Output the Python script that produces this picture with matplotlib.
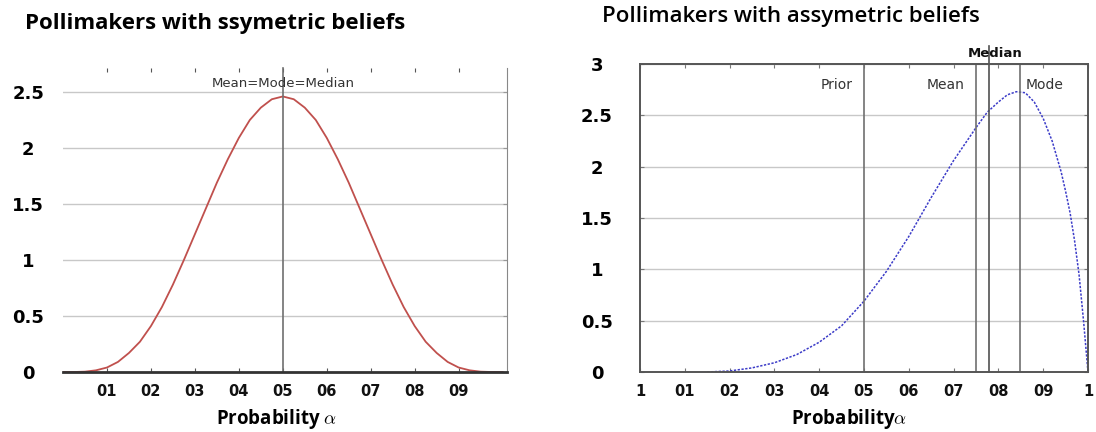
import matplotlib
matplotlib.use("Agg")
import matplotlib.pyplot as plt

plt.rcParams['mathtext.fontset'] = 'cm'

# symmetric beliefs (left)
sym_x = [0.0, 0.025, 0.05, 0.075, 0.1, 0.125, 0.15, 0.175, 0.2, 0.225, 0.25,
         0.275, 0.3, 0.325, 0.35, 0.375, 0.4, 0.425, 0.45, 0.475, 0.5,
         0.525, 0.55, 0.575, 0.6, 0.625, 0.65, 0.675, 0.7, 0.725, 0.75,
         0.775, 0.8, 0.825, 0.85, 0.875, 0.9, 0.925, 0.95, 0.975, 1.0]
sym_y = [0.0, 0.0, 0.003, 0.015, 0.04, 0.09, 0.17, 0.27, 0.41, 0.58, 0.78,
         1.0, 1.23, 1.46, 1.69, 1.9, 2.09, 2.25, 2.36, 2.435, 2.46,
         2.435, 2.36, 2.25, 2.09, 1.9, 1.69, 1.46, 1.23, 1.0, 0.78,
         0.58, 0.41, 0.27, 0.17, 0.09, 0.04, 0.015, 0.003, 0.0, 0.0]

# asymmetric beliefs (right)
asym_x = [0.15, 0.2, 0.25, 0.3, 0.35, 0.4, 0.45, 0.5, 0.55, 0.6, 0.65, 0.7,
          0.75, 0.775, 0.8, 0.82, 0.84, 0.86, 0.88, 0.9, 0.92, 0.94, 0.95,
          0.96, 0.97, 0.98, 0.99, 1.0]
asym_y = [0.0, 0.01, 0.04, 0.09, 0.17, 0.29, 0.45, 0.69, 0.98, 1.32, 1.70, 2.06,
          2.38, 2.53, 2.63, 2.70, 2.73, 2.72, 2.63, 2.47, 2.25, 1.95, 1.76,
          1.55, 1.28, 0.95, 0.50, 0.0]

left_ticks = [0.1, 0.2, 0.3, 0.4, 0.5, 0.6, 0.7, 0.8, 0.9]
left_ticklabels = ['01', '02', '03', '04', '05', '06', '07', '08', '09']
right_ticks = [0.0, 0.1, 0.2, 0.3, 0.4, 0.5, 0.6, 0.7, 0.8, 0.9, 1.0]
right_ticklabels = ['1', '01', '02', '03', '04', '05', '06', '07', '08', '09', '1']
left_yticks = [0, 0.5, 1, 1.5, 2, 2.5]
right_yticks = [0, 0.5, 1, 1.5, 2, 2.5, 3]

sym_center = 0.5
prior, mean, median, mode = 0.5, 0.75, 0.778, 0.848

fig = plt.figure(figsize=(10.96, 4.32), dpi=100)

grid_c = '#c8c8c8'
tick_font = dict(family='DejaVu Sans', weight='bold', size=13)
xtick_font = dict(family='DejaVu Sans', weight='bold', size=10.5)

# ---------- left chart ----------
ax1 = fig.add_axes([63/1096, 60/432, 444/1096, 304/432])
ax1.plot(sym_x, sym_y, color='#c0504d', lw=1.3)
ax1.axvline(sym_center, color='#707070', lw=1.2, ymax=1.0, clip_on=False)
ax1.text(sym_center, 2.52, 'Mean=Mode=Median', ha='center', va='bottom',
         family='DejaVu Sans', size=9.5, color='#333333')
ax1.set_xlim(0, 1.01)
ax1.set_ylim(0, 2.714)
ax1.set_xticks(left_ticks)
ax1.set_xticklabels(left_ticklabels, **xtick_font)
ax1.set_yticks(left_yticks)
ax1.set_yticklabels(['0', '0.5', '1', '1.5', '2', '2.5'], ha='center', **tick_font)
ax1.tick_params(axis='x', direction='in', length=3, color='#555555', pad=9,
                top=True, labelcolor='#111111')
ax1.tick_params(axis='y', direction='in', length=3, color='#999999', pad=25,
                right=True, left=False)
ax1.grid(axis='y', color=grid_c, lw=1)
ax1.set_axisbelow(True)
ax1.spines['top'].set_visible(False)
ax1.spines['left'].set_visible(False)
ax1.spines['right'].set_color('#888888')
ax1.spines['bottom'].set_color('#333333')
ax1.spines['bottom'].set_linewidth(2)
ax1.set_xlabel('Probability $\\alpha$', family='Open Sans', weight='bold', size=13.5)
ax1.xaxis.set_label_coords(0.48, -0.115)

# ---------- right chart ----------
ax2 = fig.add_axes([640/1096, 60/432, 448/1096, 308/432])
ax2.plot(asym_x, asym_y, color='#3c3cc8', lw=1.1, ls=(0, (1.5, 1)))
for v in (prior, mean, mode):
    ax2.axvline(v, color='#707070', lw=1.2)
ax2.axvline(median, color='#505050', lw=1.2, ymax=1.06, clip_on=False)
lab = dict(family='DejaVu Sans', size=10, color='#333333', va='center')
ax2.text(prior - 0.025, 2.8, 'Prior', ha='right', **lab)
ax2.text(mean - 0.025, 2.8, 'Mean', ha='right', **lab)
ax2.text(mode + 0.012, 2.8, 'Mode', ha='left', **lab)
ax2.text(median + 0.015, 3.1, 'Median', ha='center', va='center',
         family='DejaVu Sans', weight='bold', size=9.5, color='#111111', clip_on=False)
ax2.set_xlim(0, 1)
ax2.set_ylim(0, 3)
ax2.set_xticks(right_ticks)
ax2.set_xticklabels(right_ticklabels, **xtick_font)
ax2.set_yticks(right_yticks)
ax2.set_yticklabels(['0', '0.5', '1', '1.5', '2', '2.5', '3'], ha='center', **tick_font)
ax2.tick_params(axis='x', direction='in', length=3, color='#777777', pad=9,
                top=True, labelcolor='#111111')
ax2.tick_params(axis='y', direction='in', length=3, color='#777777', pad=31,
                right=True)
ax2.grid(axis='y', color=grid_c, lw=1)
ax2.set_axisbelow(True)
for s in ax2.spines.values():
    s.set_color('#555555')
    s.set_linewidth(1.4)
ax2.set_xlabel('Probability$\\alpha$', family='Open Sans', weight='bold', size=13.5)
ax2.xaxis.set_label_coords(0.466, -0.115)

# titles
fig.text(25/1096, 1 - 29/432, 'Pollimakers with ssymetric beliefs', family='Open Sans',
         weight='bold', size=16, va='baseline', ha='left')
fig.text(602/1096, 1 - 22/432, 'Pollimakers with assymetric beliefs', family='Open Sans',
         weight='semibold', size=16, va='baseline', ha='left')

fig.savefig('out.png', dpi=100)
